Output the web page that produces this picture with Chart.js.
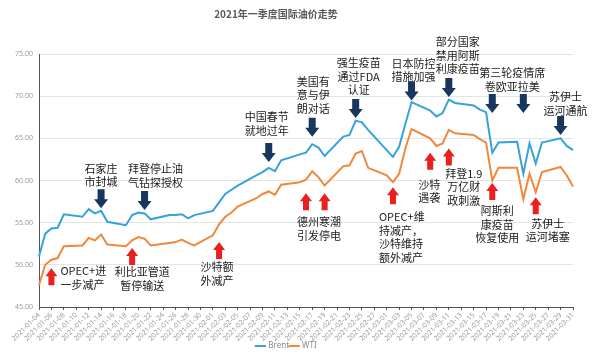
<!DOCTYPE html>
<html>
<head>
<meta charset="utf-8">
<script src="https://cdn.jsdelivr.net/npm/chart.js@4.4.0/dist/chart.umd.min.js"></script>
<style>
  html, body { margin: 0; padding: 0; background: #fff; }
  #wrap { width: 600px; height: 360px; }
</style>
</head>
<body>
<div id="wrap"><canvas id="chart"></canvas></div>
<script>
const TITLE = '2021年一季度国际油价走势';
const Y_TICKS = [45, 50, 55, 60, 65, 70, 75];

// trading days (MM-DD) and closing prices
const tradeDates = [
  '01-04', '01-05', '01-06', '01-07', '01-08',
  '01-11', '01-12', '01-13', '01-14', '01-15',
  '01-18', '01-19', '01-20', '01-21', '01-22',
  '01-25', '01-26', '01-27', '01-28', '01-29',
  '02-01', '02-02', '02-03', '02-04', '02-05',
  '02-08', '02-09', '02-10', '02-11', '02-12',
  '02-15', '02-16', '02-17', '02-18', '02-19',
  '02-22', '02-23', '02-24', '02-25', '02-26',
  '03-01', '03-02', '03-03', '03-04', '03-05',
  '03-08', '03-09', '03-10', '03-11', '03-12',
  '03-15', '03-16', '03-17', '03-18', '03-19',
  '03-22', '03-23', '03-24', '03-25', '03-26',
  '03-29', '03-30', '03-31',
];

const brent = [
  51.0, 53.7, 54.3, 54.4, 56.0,
  55.7, 56.6, 56.1, 56.4, 55.1,
  54.7, 55.9, 56.2, 56.1, 55.4,
  55.9, 55.9, 56.0, 55.5, 55.9,
  56.4, 57.4, 58.4, 58.9, 59.4,
  60.6, 61.0, 61.5, 61.1, 62.4,
  63.1, 63.3, 64.3, 63.9, 62.9,
  65.2, 65.4, 67.1, 66.9, 66.0,
  63.6, 62.8, 64.0, 66.7, 69.3,
  68.3, 67.6, 68.0, 69.6, 69.2,
  68.9, 68.4, 68.1, 63.3, 64.5,
  64.6, 60.8, 64.4, 62.0, 64.5,
  65.0, 64.1, 63.6,
];

const wti = [
  47.6, 50.0, 50.6, 50.8, 52.2,
  52.3, 53.2, 52.9, 53.6, 52.4,
  52.2, 52.9, 53.3, 53.1, 52.3,
  52.6, 52.7, 53.0, 52.6, 52.3,
  53.5, 54.8, 55.7, 56.2, 56.9,
  57.9, 58.4, 58.7, 58.3, 59.5,
  59.8, 60.1, 61.1, 60.4, 59.4,
  61.7, 61.8, 63.2, 63.5, 61.5,
  60.6, 59.8, 60.8, 63.8, 66.1,
  65.0, 64.1, 64.4, 66.0, 65.6,
  65.4, 64.9, 64.5, 60.0, 61.5,
  61.5, 57.8, 60.8, 58.6, 61.0,
  61.6, 60.6, 59.3,
];

// event notes: date, arrow tip price, text lines
const bearNotes = [
  { date: '01-14', tip: 56.7, lines: ['石家庄', '市封城'], dx: 0, dy: -40 },
  { date: '01-21', tip: 56.5, lines: ['拜登停止油', '气钻探授权'], dx: 11, dy: -41 },
  { date: '02-10', tip: 62.2, lines: ['中国春节', '就地过年'], dx: -2, dy: -45 },
  { date: '02-17', tip: 65.2, lines: ['美国有', '意与伊', '朗对话'], dx: 1, dy: -55 },
  { date: '02-24', tip: 67.4, lines: ['强生疫苗', '通过FDA', '认证'], dx: 3, dy: -55 },
  { date: '03-05', tip: 69.5, lines: ['日本防控', '措施加强'], dx: 2, dy: -37 },
  { date: '03-11', tip: 69.9, lines: ['部分国家', '禁用阿斯', '利康疫苗'], dx: 9, dy: -55 },
  { date: '03-18', tip: 68.0, lines: ['第三轮疫情席', '卷欧亚拉美'], dx: 20, dy: -40 },
  { date: '03-23', tip: 68.0, lines: [] },
  { date: '03-29', tip: 65.4, lines: ['苏伊士', '运河通航'], dx: 5, dy: -38 },
];

const bullNotes = [
  { date: '01-06', tip: 49.6, lines: ['OPEC+进', '一步减产'], dx: 9, dy: 3, align: 'left' },
  { date: '01-19', tip: 52.0, lines: ['利比亚管道', '暂停输送'], dx: 10, dy: 24 },
  { date: '02-02', tip: 52.7, lines: ['沙特额', '外减产'], dx: -2, dy: 25 },
  { date: '02-16', tip: 58.5, lines: ['德州寒潮', '引发停电'], dx: -9, dy: 29, align: 'left' },
  { date: '02-19', tip: 58.5, lines: [] },
  { date: '03-02', tip: 59.2, lines: ['OPEC+维', '持减产，', '沙特维持', '额外减产'], dx: -14, dy: 30, align: 'left' },
  { date: '03-08', tip: 63.3, lines: ['沙特', '遇袭'], dx: -1, dy: 32 },
  { date: '03-11', tip: 63.8, lines: ['拜登1.9', '万亿财', '政刺激'], dx: 15, dy: 25 },
  { date: '03-18', tip: 59.7, lines: ['阿斯利', '康疫苗', '恢复使用'], dx: 5, dy: 28 },
  { date: '03-25', tip: 58.0, lines: ['苏伊士', '运河堵塞'], dx: 12, dy: 26 },
];

const BRENT_COLOR = '#36a2dc';
const WTI_COLOR = '#f0883c';
const NAVY = '#17375e';
const RED = '#e8201e';
const CJK = '"Noto Sans CJK SC", "Noto Sans", sans-serif';

function pad2(n) {
  return String(n).padStart(2, '0');
}

// calendar axis: every day of the quarter shown in the picture
const calendar = [];
for (let d = new Date(2021, 0, 4); d <= new Date(2021, 2, 31); d.setDate(d.getDate() + 1)) {
  calendar.push(`2021-${pad2(d.getMonth() + 1)}-${pad2(d.getDate())}`);
}

function onCalendar(values) {
  return calendar.map((day) => {
    const i = tradeDates.indexOf(day.slice(5));
    return i >= 0 ? values[i] : null;
  });
}

function drawArrow(ctx, x, tipY, down, color, headW, shaftW, len, headLen) {
  const s = down ? 1 : -1;
  const tail = tipY - s * len;
  const neck = tipY - s * headLen;
  ctx.beginPath();
  ctx.moveTo(x - shaftW / 2, tail);
  ctx.lineTo(x + shaftW / 2, tail);
  ctx.lineTo(x + shaftW / 2, neck);
  ctx.lineTo(x + headW / 2, neck);
  ctx.lineTo(x, tipY);
  ctx.lineTo(x - headW / 2, neck);
  ctx.lineTo(x - shaftW / 2, neck);
  ctx.closePath();
  ctx.fillStyle = color;
  ctx.fill();
}

function drawNotes(chart, notes, down) {
  const { ctx, scales } = chart;
  notes.forEach((note) => {
    const idx = calendar.indexOf(`2021-${note.date}`);
    const x = scales.x.getPixelForValue(idx);
    const tipY = scales.y.getPixelForValue(note.tip);
    if (down) drawArrow(ctx, x, tipY, true, NAVY, 14, 7, 19, 9);
    else drawArrow(ctx, x, tipY, false, RED, 12, 6, 17, 8);
    ctx.fillStyle = '#1a1a1a';
    ctx.font = `11px ${CJK}`;
    ctx.textBaseline = 'middle';
    ctx.textAlign = note.align || 'center';
    note.lines.forEach((line, i) => {
      ctx.fillText(line, x + note.dx, tipY + note.dy + i * 13.5);
    });
  });
}

const notesPlugin = {
  id: 'notes',
  afterDatasetsDraw(chart) {
    const { ctx } = chart;
    ctx.save();
    drawNotes(chart, bearNotes, true);
    drawNotes(chart, bullNotes, false);
    ctx.font = `bold 10px ${CJK}`;
    ctx.fillStyle = '#595959';
    ctx.textAlign = 'center';
    ctx.textBaseline = 'middle';
    ctx.fillText(TITLE, 276, 14);
    ctx.restore();
  },
};

new Chart(document.getElementById('chart'), {
  type: 'line',
  data: {
    labels: calendar,
    datasets: [
      {
        label: 'Brent',
        data: onCalendar(brent),
        borderColor: BRENT_COLOR,
        backgroundColor: BRENT_COLOR,
        borderWidth: 2,
        pointRadius: 0,
        spanGaps: true,
        tension: 0,
      },
      {
        label: 'WTI',
        data: onCalendar(wti),
        borderColor: WTI_COLOR,
        backgroundColor: WTI_COLOR,
        borderWidth: 2,
        pointRadius: 0,
        spanGaps: true,
        tension: 0,
      },
    ],
  },
  options: {
    responsive: true,
    maintainAspectRatio: false,
    animation: false,
    layout: { padding: { top: 54, right: 27, left: 0, bottom: 0 } },
    plugins: {
      title: { display: false },
      tooltip: { enabled: false },
      legend: {
        position: 'bottom',
        labels: {
          usePointStyle: true,
          pointStyle: 'line',
          boxWidth: 14,
          padding: 1,
          color: '#8a8a8a',
          font: { size: 8, family: 'Noto Sans' },
        },
      },
    },
    scales: {
      x: {
        afterFit(scale) { scale.height = 34; },
        grid: {
          drawOnChartArea: false,
          tickLength: 3,
          tickColor: (c) => (c.index % 2 === 0 ? '#555' : 'rgba(0,0,0,0)'),
        },
        border: { color: '#555', width: 1 },
        ticks: {
          autoSkip: false,
          minRotation: 45,
          maxRotation: 45,
          padding: 1,
          color: '#9a9a9a',
          font: { size: 7, family: 'Noto Sans' },
          callback: (value, i) => (i % 2 === 0 ? calendar[i] : ''),
        },
      },
      y: {
        min: 45,
        max: 75,
        afterFit(scale) { scale.width = 39; },
        afterBuildTicks(scale) { scale.ticks = Y_TICKS.map((v) => ({ value: v })); },
        grid: { color: '#e4e4e4', drawTicks: false },
        border: { color: '#555', width: 1 },
        ticks: {
          padding: 6,
          color: '#9a9a9a',
          font: { size: 7, family: 'Noto Sans' },
          callback: (v) => Number(v).toFixed(2),
        },
      },
    },
  },
  plugins: [notesPlugin],
});
</script>
</body>
</html>
